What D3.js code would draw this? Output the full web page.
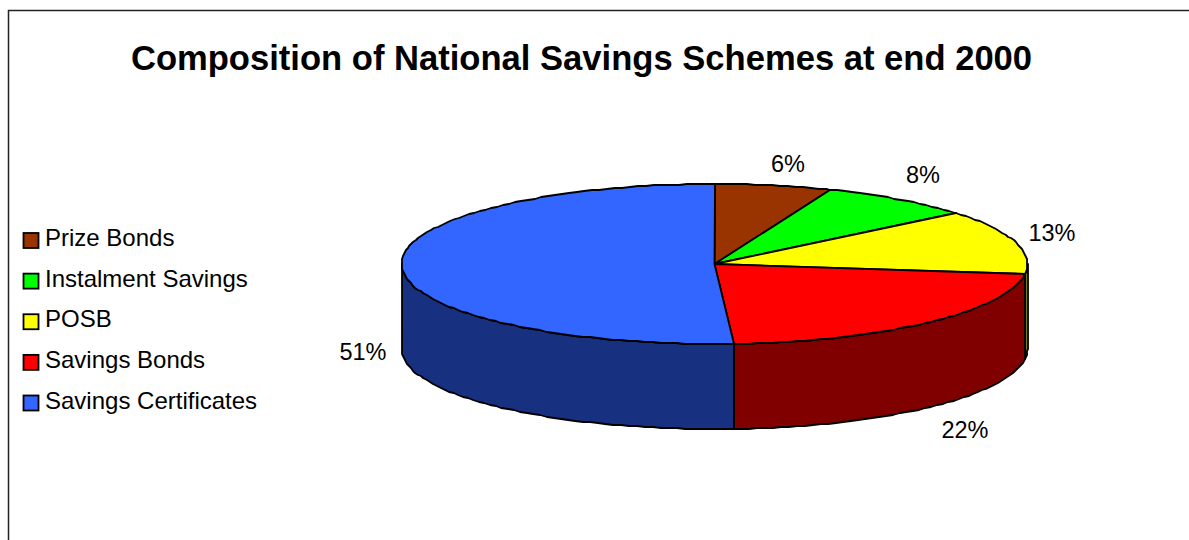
<!DOCTYPE html>
<html>
<head>
<meta charset="utf-8">
<script src="https://cdn.jsdelivr.net/npm/d3@7/dist/d3.min.js"></script>
<style>
  html, body { margin: 0; padding: 0; background: #fff; overflow: hidden; }
  text { font-family: "Liberation Sans", Arial, sans-serif; fill: #000; }
</style>
</head>
<body>
<svg id="chart" width="1189" height="540"></svg>
<script>
const categories = ["Prize Bonds", "Instalment Savings", "POSB", "Savings Bonds", "Savings Certificates"];
const shares = [6, 8, 13, 22, 51];
const topColors = ["#993300", "#00ff00", "#ffff00", "#ff0000", "#3366ff"];
const wallColors = ["#4d1a00", "#008000", "#808000", "#800000", "#17307f"];
const labelAnchors = [[788, 172], [923, 183], [1052, 241], [965, 438], [363, 360]];

const svg = d3.select("#chart");

// Chart frame: left and top edges, running off the page on the other sides
svg.append("path")
  .attr("d", d3.line()([[8.5, 540], [8.5, 10.5], [1189, 10.5]]))
  .attr("fill", "none").attr("stroke", "#222").attr("stroke-width", 1.5);

svg.append("text")
  .attr("x", 581.5).attr("y", 70)
  .attr("text-anchor", "middle")
  .attr("font-size", 34.6).attr("font-weight", "bold")
  .text("Composition of National Savings Schemes at end 2000");

// Tilted-pie projection: angle runs clockwise from 12 o'clock
const cx = 714.5, cy = 264, rx = 313, ry = 80, depth = 85;
const xOf = d3.scaleLinear().domain([-1, 1]).range([cx - rx, cx + rx]);
const yOf = d3.scaleLinear().domain([-1, 1]).range([cy - ry, cy + ry]);
// Whole-pixel rim points give the outline its slightly stepped look
const rim = (a, dy = 0) => [Math.round(xOf(Math.sin(a))), Math.round(yOf(-Math.cos(a))) + dy];

const slices = d3.pie().sort(null).value(d => d)(shares);
const line = d3.line();
const STEP = Math.PI / 120;

function rimPoints(a0, a1, dy = 0) {
  const pts = d3.range(a0, a1, STEP).map(a => rim(a, dy));
  pts.push(rim(a1, dy));
  return pts;
}

// Side walls exist only where the rim faces the viewer (PI/2 to 3PI/2)
slices.forEach((s, i) => {
  const a0 = Math.max(s.startAngle, Math.PI / 2);
  const a1 = Math.min(s.endAngle, 3 * Math.PI / 2);
  if (a1 <= a0) return;
  const upper = rimPoints(a0, a1);
  const lower = rimPoints(a0, a1, depth).reverse();
  svg.append("path")
    .attr("d", line(upper.concat(lower)) + "Z")
    .attr("fill", wallColors[i])
    .attr("stroke", "#000").attr("stroke-width", 1.8)
    .attr("stroke-linejoin", "round");
});

// Top faces
slices.forEach((s, i) => {
  const pts = [[cx, cy]].concat(rimPoints(s.startAngle, s.endAngle));
  svg.append("path")
    .attr("d", line(pts) + "Z")
    .attr("fill", topColors[i])
    .attr("stroke", "#000").attr("stroke-width", 1.8)
    .attr("stroke-linejoin", "round");
});

// Percentage labels
shares.forEach((v, i) => {
  svg.append("text")
    .attr("x", labelAnchors[i][0]).attr("y", labelAnchors[i][1])
    .attr("text-anchor", "middle")
    .attr("font-size", 23.5)
    .text(v + "%");
});

// Legend
const legendY = d3.scalePoint().domain(categories).range([240.5, 403]);
const legend = svg.append("g");
categories.forEach((c, i) => {
  const y = legendY(c);
  legend.append("rect")
    .attr("x", 23.5).attr("y", y - 7.5)
    .attr("width", 15).attr("height", 15)
    .attr("fill", topColors[i])
    .attr("stroke", "#000").attr("stroke-width", 1.8);
  legend.append("text")
    .attr("x", 45).attr("y", y + 5.5)
    .attr("font-size", 24)
    .text(c);
});
</script>
</body>
</html>
